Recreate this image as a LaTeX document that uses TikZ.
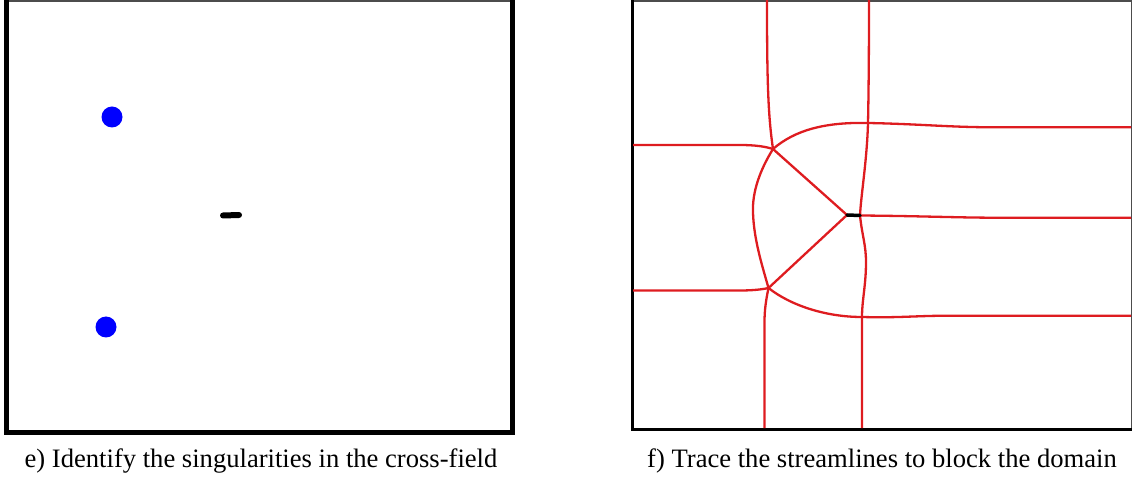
\documentclass[tikz,border=0pt]{standalone}
\usepackage{fontspec}
\setmainfont{Liberation Serif}
\usetikzlibrary{calc}
\definecolor{streamred}{RGB}{222,28,32}
\definecolor{singblue}{RGB}{0,0,255}

\begin{document}
\begin{tikzpicture}[x=1pt,y=-1pt,
    thickframe/.style={draw=black, line width=5pt},
    thinframe/.style={draw=black!70, line width=1.5pt},
    sing/.style={circle, fill=singblue, inner sep=0pt, minimum size=21pt},
    core/.style={draw=black, line width=6pt, line cap=round},
    stream/.style={draw=streamred, line width=2.3pt},
    caption/.style={anchor=base, inner sep=0pt, font=\fontsize{26.6}{30}\selectfont}
]
    \useasboundingbox (0,0) rectangle (1133,478);

    % Left panel: singularities of the cross-field
    \draw[thinframe] (6.5,1) -- (512.5,1);
    \draw[thickframe] (6.5,0) -- (6.5,432.5) -- (512.5,432.5) -- (512.5,0);
    \node[sing] (sA) at (112,117) {};
    \node[sing] (sB) at (106,327) {};
    \coordinate (cL) at (223,215.5);
    \coordinate (cR) at (239,215);
    \draw[core] (cL) -- (cR);
    \node[caption] (capE) at (261,467) {e) Identify the singularities in the cross-field};

    % Right panel: frame
    \draw[thinframe] (632,1) -- (1131.5,1) -- (1131.5,429.5);
    \draw[draw=black, line width=3pt] (632,0) -- (632,429.5) -- (1131.5,429.5);

    % Junctions
    \coordinate (P1) at (773,149);
    \coordinate (P2) at (768.5,288);
    \coordinate (S) at (847,215);
    \coordinate (S2) at (860,215.5);
    \coordinate (A) at (753,213);
    \coordinate (Q1) at (868,123);
    \coordinate (Q2) at (862,317);

    % Free ends on the boundary
    \coordinate (T1) at (767,0);
    \coordinate (T2) at (869,0);
    \coordinate (B1) at (764.5,428);
    \coordinate (B2) at (862,428);
    \coordinate (L1) at (633,145);
    \coordinate (L2) at (633,290.5);
    \coordinate (R1) at (1131,127.3);
    \coordinate (R2) at (1131,217.7);
    \coordinate (R3) at (1131,315.7);

    % Streamlines
    \draw[stream] (T1) .. controls (767,80) and (768,115) .. (P1);
    \draw[stream] (L1) -- (740,145) .. controls (755,145) and (765,146.5) .. (P1);
    \draw[stream] (L2) -- (740,290.5) .. controls (752,290.5) and (762,289.5) .. (P2);
    \draw[stream] (P2) .. controls (766,300) and (764.5,310) .. (764.5,322) -- (B1);
    \draw[stream] (P1) .. controls (760,170) and (752,192) .. (A) .. controls (754,240) and (762,265) .. (P2);
    \draw[stream] (P1) -- (S);
    \draw[stream] (P2) -- (S);
    \draw[stream] (P1) .. controls (795,130) and (825,122) .. (Q1) .. controls (920,124) and (950,127.3) .. (995,127.3) -- (R1);
    \draw[stream] (P2) .. controls (790,305) and (825,317) .. (Q2) .. controls (900,318) and (915,315.7) .. (950,315.7) -- (R3);
    \draw[stream] (S2) .. controls (920,216) and (960,217.7) .. (995,217.7) -- (R2);
    \draw[stream] (T2) .. controls (869,60) and (868.5,100) .. (Q1) .. controls (867,160) and (861,195) .. (S2) .. controls (862,235) and (866,245) .. (866,262) .. controls (866,285) and (862,300) .. (Q2) -- (B2);
    \draw[core, line width=3.5pt] (S) -- (S2);
    \node[caption] (capF) at (882,467) {f) Trace the streamlines to block the domain};
\end{tikzpicture}
\end{document}
